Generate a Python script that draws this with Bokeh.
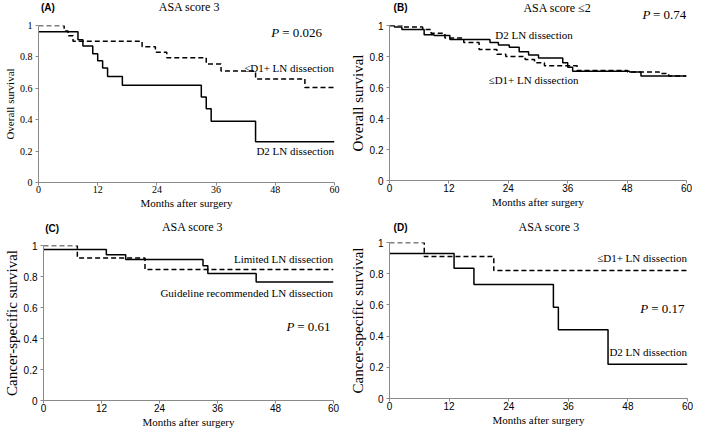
from bokeh.plotting import figure
from bokeh.models import FixedTicker, Label
from bokeh.layouts import column, row
from bokeh.embed import file_html
from bokeh.resources import INLINE

# ---------------- data ----------------
x_ticks = [0, 12, 24, 36, 48, 60]
y_ticks = [0, 0.2, 0.4, 0.6, 0.8, 1]
y_tick_labels = ["0", "0.2", "0.4", "0.6", "0.8", "1"]

# Panel A: overall survival, ASA score 3
A_d2_t = [0, 8, 9, 11, 12, 13, 14, 17, 33, 34, 35, 44, 60]
A_d2_s = [0.96, 0.91, 0.87, 0.82, 0.775, 0.73, 0.675, 0.62, 0.545, 0.47, 0.39, 0.26, 0.26]
A_d1_t = [0, 5.2, 6, 7, 21, 23.7, 26, 34, 37, 44, 54, 60]
A_d1_s = [1.0, 0.965, 0.935, 0.90, 0.865, 0.83, 0.795, 0.755, 0.71, 0.66, 0.605, 0.605]

# Panel B: overall survival, ASA score <=2
B_d2_t = [0, 1, 2.5, 7, 9, 12.2, 20.3, 22, 24.2, 26.2, 28.1, 30.1, 35, 36, 37, 48.5, 50.8, 60]
B_d2_s = [1.0, 0.99, 0.975, 0.94, 0.935, 0.91, 0.89, 0.875, 0.86, 0.83, 0.81, 0.79, 0.76, 0.73, 0.705, 0.70, 0.675, 0.675]
B_d1_t = [0, 2.6, 6.7, 8.4, 11.2, 15, 18.1, 21.7, 23.5, 27.4, 29.3, 31.3, 37.9, 48.1, 54.5, 56.4, 60]
B_d1_s = [1.0, 0.99, 0.975, 0.95, 0.92, 0.89, 0.845, 0.815, 0.80, 0.78, 0.76, 0.74, 0.71, 0.70, 0.69, 0.675, 0.675]

# Panel C: cancer-specific survival, ASA score 3
C_gl_t = [0, 13, 17, 33, 34, 44, 60]
C_gl_s = [0.975, 0.94, 0.91, 0.87, 0.82, 0.765, 0.765]
C_lim_t = [0, 7, 21, 60]
C_lim_s = [1.0, 0.92, 0.845, 0.845]

# Panel D: cancer-specific survival, ASA score 3
D_d2_t = [0, 13, 17, 33, 34, 44, 60]
D_d2_s = [0.93, 0.835, 0.73, 0.585, 0.44, 0.22, 0.22]
D_d1_t = [0, 7, 21, 60]
D_d1_s = [1.0, 0.91, 0.82, 0.82]

panel_letters = ["(A)", "(B)", "(C)", "(D)"]
panel_titles = ["ASA score 3", "ASA score \u22642", "ASA score 3", "ASA score 3"]
p_values = ["= 0.026", "= 0.74", "= 0.61", "= 0.17"]
y_titles = ["Overall survival", "Overall survival", "Cancer-specific survival", "Cancer-specific survival"]
x_title = "Months after surgery"

SERIF = "Liberation Serif"
SANS = "Liberation Sans"


def make_panel(width, height, left, right, top, bottom, tick_font, ylab_size, y_title):
    p = figure(width=width, height=height, output_backend="svg", toolbar_location=None,
               x_range=(0, 60), y_range=(0, 1),
               min_border_left=left, min_border_right=right,
               min_border_top=top, min_border_bottom=bottom)
    p.outline_line_color = None
    p.grid.visible = False
    for ax in (p.xaxis[0], p.yaxis[0]):
        ax.axis_line_color = "#8a8a8a"
        ax.major_tick_line_color = "#8a8a8a"
        ax.major_tick_in = 0
        ax.major_tick_out = 3
        ax.minor_tick_line_color = None
        ax.major_label_text_font = tick_font
        ax.major_label_text_font_size = "10px"
        ax.major_label_text_color = "black"
        ax.axis_label_text_font = SERIF
        ax.axis_label_text_font_style = "normal"
        ax.axis_label_text_color = "black"
    p.xaxis.ticker = FixedTicker(ticks=x_ticks)
    p.yaxis.ticker = FixedTicker(ticks=y_ticks)
    p.yaxis.major_label_overrides = {t: l for t, l in zip(y_ticks, y_tick_labels)}
    p.xaxis.axis_label = x_title
    p.xaxis.axis_label_text_font_size = "11px"
    p.xaxis.major_label_standoff = 0
    p.xaxis.axis_label_standoff = 1
    p.yaxis.major_label_standoff = 3
    p.yaxis.axis_label_standoff = 1
    p.yaxis.axis_label = y_title
    p.yaxis.axis_label_text_font_size = ylab_size
    return p


def make_header(width, height):
    h = figure(width=width, height=height, output_backend="svg", toolbar_location=None,
               x_range=(0, width), y_range=(0, height),
               x_axis_type=None, y_axis_type=None,
               min_border=0, min_border_left=0, min_border_right=0,
               min_border_top=0, min_border_bottom=0)
    h.outline_line_color = None
    h.grid.visible = False
    return h


def add_text(p, x, y, text, size="11px", align="left", baseline="middle", font=SERIF, style="normal"):
    p.add_layout(Label(x=x, y=y, text=text, text_font=font, text_font_size=size,
                       text_align=align, text_baseline=baseline, text_font_style=style,
                       text_color="black"))


def add_header_text(h, i, letter_x, letter_y, title_x, title_y):
    add_text(h, letter_x, letter_y, panel_letters[i], size="10px", font=SANS, style="bold")
    add_text(h, title_x, title_y, panel_titles[i], size="12px", align="center")


def add_p(p, i, x_p, x_rest, y):
    add_text(p, x_p, y, "P", size="13px", align="right", style="italic")
    add_text(p, x_rest, y, p_values[i], size="13px", align="left")


LW = 1.5
DASH = "5 3"

# ---- Panel A ----
hA = make_header(344, 19)
add_header_text(hA, 0, 2.9, 12.3, 175.4, 12.3)
pA = make_panel(344, 194, 35, 10, 6, 31, SERIF, "11px", y_titles[0])
pA.step(A_d1_t, A_d1_s, mode="after", line_color="black", line_width=LW, line_dash=DASH)
pA.step(A_d2_t, A_d2_s, mode="after", line_color="black", line_width=LW)
add_p(pA, 0, 48.8, 49.4, 0.957)
add_text(pA, 59.9, 0.73, "\u2264D1+ LN dissection", align="right")
add_text(pA, 59.9, 0.20, "D2 LN dissection", align="right")

# ---- Panel B ----
hB = make_header(349, 21)
add_header_text(hB, 1, 4.8, 14.0, 197.3, 13.5)
add_p(hB, 1, 306.7, 309.6, 7.5)
pB = make_panel(349, 192, 45, 7, 4, 33, SANS, "15px", y_titles[1])
pB.step(B_d1_t, B_d1_s, mode="after", line_color="black", line_width=LW, line_dash=DASH)
pB.step(B_d2_t, B_d2_s, mode="after", line_color="black", line_width=LW)
add_text(pB, 29.2, 0.938, "D2 LN dissection", align="center")
add_text(pB, 29.1, 0.646, "\u2264D1+ LN dissection", align="center")

# ---- Panel C ----
hC = make_header(344, 25)
add_header_text(hC, 2, 2.0, 10.5, 176.8, 11.5)
pC = make_panel(344, 192, 35, 11, 7, 30, SANS, "15px", y_titles[2])
pC.step(C_lim_t, C_lim_s, mode="after", line_color="black", line_width=LW, line_dash=DASH)
pC.step(C_gl_t, C_gl_s, mode="after", line_color="black", line_width=LW)
add_p(pC, 2, 51.9, 52.5, 0.477)
add_text(pC, 59.9, 0.911, "Limited LN dissection", align="right")
add_text(pC, 59.9, 0.694, "Guideline recommended LN dissection", align="right")

# ---- Panel D ----
hD = make_header(349, 23)
add_header_text(hD, 3, 4.8, 9.5, 187.0, 9.5)
pD = make_panel(349, 194, 45, 6, 6, 32, SANS, "15px", y_titles[3])
pD.step(D_d1_t, D_d1_s, mode="after", line_color="black", line_width=LW, line_dash=DASH)
pD.step(D_d2_t, D_d2_s, mode="after", line_color="black", line_width=LW)
add_p(pD, 3, 52.1, 52.7, 0.578)
add_text(pD, 59.9, 0.90, "\u2264D1+ LN dissection", align="right")
add_text(pD, 59.9, 0.30, "D2 LN dissection", align="right")

layout = column(row(column(hA, pA), column(hB, pB)),
                row(column(hC, pC), column(hD, pD)))
open("out.html", "w").write(file_html(layout, INLINE))
